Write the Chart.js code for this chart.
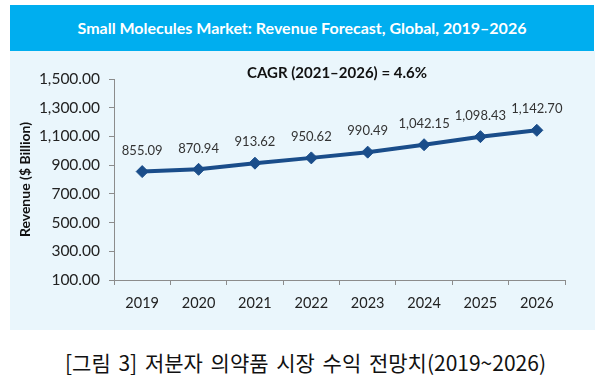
<!DOCTYPE html>
<html>
<head>
<meta charset="utf-8">
<script src="https://cdn.jsdelivr.net/npm/chart.js@4/dist/chart.umd.min.js"></script>
<style>
  html, body { margin: 0; padding: 0; background: #ffffff; width: 611px; height: 381px; overflow: hidden; }
  #titlebar { position: absolute; left: 10px; top: 5px; width: 584px; height: 46px; background: #00aeef;
    color: #ffffff; font-family: Lato, "Open Sans", sans-serif; font-weight: bold; font-size: 16px;
    line-height: 46px; text-align: center; }
  #panel { position: absolute; left: 10px; top: 51px; width: 585px; height: 279px; background: #eaf6fc; }
  #cagr { position: absolute; left: 10px; top: 62px; width: 654px; text-align: center;
    font-family: Lato, "Open Sans", sans-serif; font-weight: bold; font-size: 15px; color: #111111; line-height: 20px; }
  #caption { position: absolute; left: 0; top: 348px; width: 611px; text-align: center;
    font-family: "Noto Sans CJK KR", sans-serif; font-size: 21px; word-spacing: 3px; color: #111; line-height: 28px; }
  #wrap { position: absolute; left: 10px; top: 51px; width: 585px; height: 279px; }
</style>
</head>
<body>
<div id="titlebar">Small Molecules Market: Revenue Forecast, Global, 2019–2026</div>
<div id="panel"></div>
<div id="wrap"><canvas id="c"></canvas></div>
<div id="cagr">CAGR (2021–2026) = 4.6%</div>
<div id="caption">[그림 3] 저분자 의약품 시장 수익 전망치(2019~2026)</div>
<script>
const years = ["2019", "2020", "2021", "2022", "2023", "2024", "2025", "2026"];
const revenue = [855.09, 870.94, 913.62, 950.62, 990.49, 1042.15, 1098.43, 1142.70];
const yTicks = [100, 300, 500, 700, 900, 1100, 1300, 1500];
const yAxisTitle = "Revenue ($ Billion)";

const fmt = v => Number(v).toLocaleString('en-US', { minimumFractionDigits: 2, maximumFractionDigits: 2 });

const dataLabels = {
  id: 'dataLabels',
  afterDatasetsDraw(chart) {
    const ctx = chart.ctx;
    const meta = chart.getDatasetMeta(0);
    ctx.save();
    ctx.font = '13px Lato, "Open Sans", sans-serif';
    ctx.fillStyle = '#333333';
    ctx.textAlign = 'center';
    ctx.textBaseline = 'middle';
    meta.data.forEach((pt, i) => {
      ctx.fillText(fmt(revenue[i]), pt.x, pt.y - 21);
    });
    ctx.restore();
  }
};

new Chart(document.getElementById('c'), {
  type: 'line',
  data: {
    labels: years,
    datasets: [{
      data: revenue,
      borderColor: '#1a4d8a',
      backgroundColor: '#1a4d8a',
      borderWidth: 4,
      pointStyle: 'rectRot',
      pointRadius: 6,
      pointHoverRadius: 6,
      pointBackgroundColor: '#1a4d8a',
      pointBorderColor: '#1a4d8a',
      pointBorderWidth: 1,
      tension: 0,
      fill: false
    }]
  },
  options: {
    responsive: true,
    maintainAspectRatio: false,
    animation: false,
    events: [],
    layout: { padding: { left: 0, top: 28, right: 30, bottom: 0 } },
    plugins: { legend: { display: false }, title: { display: false }, tooltip: { enabled: false } },
    scales: {
      x: {
        offset: true,
        grid: { display: true, offset: true, drawOnChartArea: false, tickLength: 5, color: '#8c8c8c' },
        border: { display: true, color: '#8c8c8c', width: 1 },
        ticks: { color: '#222222', padding: 10, font: { family: 'Lato, "Open Sans", sans-serif', size: 14.5 } },
        afterFit(scale) { scale.height = 50; }
      },
      y: {
        min: 100, max: 1500,
        afterBuildTicks(scale) { scale.ticks = yTicks.map(v => ({ value: v })); },
        grid: { display: true, drawOnChartArea: false, tickLength: 5, color: '#8c8c8c' },
        border: { display: true, color: '#8c8c8c', width: 1 },
        ticks: { color: '#222222', padding: 9, font: { family: 'Lato, "Open Sans", sans-serif', size: 15.5 },
          callback: v => fmt(v) },
        title: { display: true, text: yAxisTitle, color: '#111111', padding: { top: 7, bottom: 0 },
          font: { family: 'Lato, "Open Sans", sans-serif', size: 14, weight: 'bold' } },
        afterFit(scale) { scale.width = 104; }
      }
    }
  },
  plugins: [dataLabels]
});
</script>
</body>
</html>
